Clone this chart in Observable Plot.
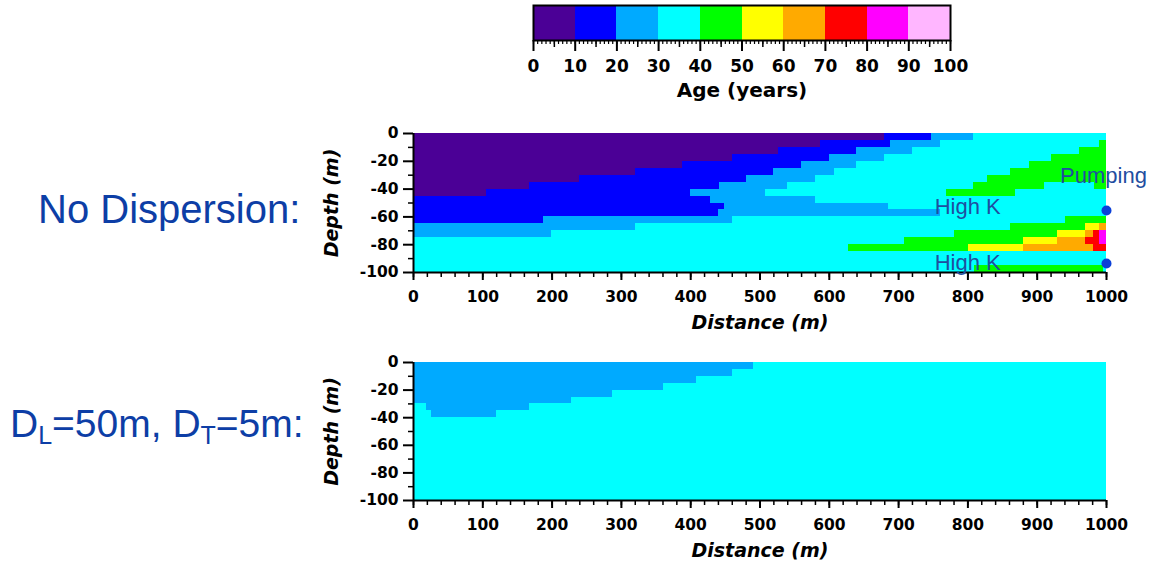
<!DOCTYPE html>
<html><head><meta charset="utf-8">
<script src="https://cdn.jsdelivr.net/npm/d3@7"></script>
<script src="https://cdn.jsdelivr.net/npm/@observablehq/plot@0.6"></script>
<style>
body{margin:0;background:#fff;}
#root{position:relative;width:1156px;height:565px;overflow:hidden;background:#fff;}
.abs{position:absolute;}
.lbl{position:absolute;font-family:"Liberation Sans",Arial,sans-serif;color:#0d3ea6;white-space:nowrap;line-height:1;}
.sub{font-size:25px;position:relative;top:7px;}
</style></head><body><div id="root">
<div class="lbl" style="left:38px;top:189px;font-size:40px;">No Dispersion:</div>
<div class="lbl" style="left:10px;top:404px;font-size:39px;">D<span class="sub">L</span>=50m, D<span class="sub">T</span>=5m:</div>
</div>
<script>
// ---- data ----
const ageEdges = [0,10,20,30,40,50,60,70,80,90,100];
const ageColors = ["#4b0096","#0000ff","#00aaff","#00ffff","#00ff00","#ffff00","#ffaa00","#ff0000","#ff00ff","#ffb6ff"];
const ageTickLabels = [0,10,20,30,40,50,60,70,80,90,100];
const ageMidTicks = [5,15,25,35,45,55,65,75,85,95];
const ageMinorTicks = d3.range(0,101,1);

const depthRowTop    = [0,-5,-10,-15,-20,-25,-30,-35,-40,-45,-50,-55,-60,-65,-70,-75,-80,-85,-90,-95];
const depthRowBottom = [-5,-10,-15,-20,-25,-30,-35,-40,-45,-50,-55,-60,-65,-70,-75,-80,-85,-90,-95,-100];
const distanceMax = 1000;
const depthMajor = [0,-20,-40,-60,-80,-100];
const depthMinor = [-10,-30,-50,-70,-90];
const distMajor = [0,100,200,300,400,500,600,700,800,900,1000];
const distMinor = d3.range(0,1001,20);

// each row: [start distance (m), age class lower bound (years)]
const noDispersionRows = [
 [[0,0],[679,10],[748,20],[808,30]],
 [[0,0],[587,10],[688,20],[760,30],[990,40]],
 [[0,0],[526,10],[639,20],[720,30],[961,40]],
 [[0,0],[460,10],[601,20],[680,30],[921,40]],
 [[0,0],[388,10],[560,20],[639,30],[889,40]],
 [[0,0],[320,10],[519,20],[607,30],[861,40]],
 [[0,0],[240,10],[480,20],[580,30],[829,40]],
 [[0,0],[167,10],[441,20],[539,30],[808,40],[910,30],[982,40]],
 [[0,0],[106,10],[400,20],[508,30],[769,40],[869,30]],
 [[0,10],[429,20],[580,30]],
 [[0,10],[449,20],[685,30]],
 [[0,10],[440,20],[760,30]],
 [[0,10],[188,20],[460,30],[941,40]],
 [[0,20],[320,30],[861,40],[970,50],[990,60]],
 [[0,20],[199,30],[781,40],[929,50],[970,60],[981,70],[990,80]],
 [[0,30],[708,40],[880,50],[929,60],[970,70],[990,80]],
 [[0,30],[628,40],[801,50],[880,60],[981,70]],
 [[0,30]],
 [[0,30]],
 [[0,30],[810,40],[996,30]]
];
const dispersionRows = [
 [[0,20],[490,30]],
 [[0,20],[460,30]],
 [[0,20],[408,30]],
 [[0,20],[361,30]],
 [[0,20],[287,30]],
 [[0,20],[228,30]],
 [[0,30],[19,20],[167,30]],
 [[0,30],[26,20],[120,30]],
 [[0,30]],[[0,30]],[[0,30]],[[0,30]],[[0,30]],[[0,30]],[[0,30]],[[0,30]],[[0,30]],[[0,30]],[[0,30]],[[0,30]]
];
const noDispLabels = [
 {label:"Pumping", x:933, y:-30.6},
 {label:"High K", x:752, y:-52.9},
 {label:"High K", x:752, y:-93}
];
const wells = [{x:1000, y:-55.4},{x:1000, y:-93.5}];

// ---- rendering ----
const root = document.getElementById("root");
const colorScale = {type:"threshold", domain: ageEdges.slice(1,-1), range: ageColors};
const baseStyle = {fontFamily:"'DejaVu Sans', sans-serif", fontWeight:"bold", fontSize:"15px", color:"black", background:"none", maxWidth:"none", overflow:"visible"};

function place(node, left, top){
  const d = document.createElement("div");
  d.className = "abs"; d.style.left = left+"px"; d.style.top = top+"px";
  d.appendChild(node); root.appendChild(d);
}

const bins = ageEdges.slice(0,-1).map((a,i)=>({a0:a, a1:ageEdges[i+1]}));
const colorbar = Plot.plot({
  width:480, height:110, marginLeft:33, marginRight:30, marginTop:5, marginBottom:70,
  x:{domain:[0,100]}, y:{domain:[0,1], axis:null}, color: colorScale, style: baseStyle,
  marks:[
    Plot.rect(bins,{x1:"a0", x2:"a1", y1:0, y2:1, fill:"a0", shapeRendering:"crispEdges"}),
    Plot.frame({stroke:"black", strokeWidth:2}),
    Plot.axisX({ticks:ageMinorTicks, tickSize:4, tickFormat:()=>"", strokeWidth:1.2, label:null}),
    Plot.axisX({ticks:ageMidTicks, tickSize:7, tickFormat:()=>"", strokeWidth:1.5, label:null}),
    Plot.axisX({ticks:ageTickLabels, tickSize:11, tickPadding:8, tickFormat:d=>String(d), strokeWidth:2, label:null, fontSize:17}),
    Plot.text(["Age (years)"], {frameAnchor:"bottom", dy:50, lineAnchor:"middle", fontSize:20})
  ]
});
place(colorbar, 500, 0);

function panel(rows, H, mt, mb, labels, points){
  const cells = rows.flatMap((segs,i)=>segs.map(([x0,age],j)=>({
    x1:x0, x2: j+1<segs.length ? segs[j+1][0] : distanceMax,
    y1:depthRowBottom[i], y2:depthRowTop[i], age})));
  const marks = [
    Plot.rect(cells,{x1:"x1", x2:"x2", y1:"y1", y2:"y2", fill:"age", shapeRendering:"crispEdges"}),
    Plot.ruleX([0],{stroke:"black", strokeWidth:2}),
    Plot.ruleY([-100],{stroke:"black", strokeWidth:2}),
    Plot.axisY({ticks:depthMinor, tickSize:5, tickFormat:()=>"", strokeWidth:1.5, label:null}),
    Plot.axisY({ticks:depthMajor, tickSize:10, tickPadding:5, tickFormat:d=>String(d), strokeWidth:2, label:null, fontSize:15.5}),
    Plot.axisX({ticks:distMinor, tickSize:5, tickFormat:()=>"", strokeWidth:1.5, label:null}),
    Plot.axisX({ticks:distMajor, tickSize:8, tickPadding:10, tickFormat:d=>String(d), strokeWidth:2, label:null, fontSize:15.5}),
    Plot.text(["Depth (m)"], {frameAnchor:"left", dx:-81.5, rotate:-90, textAnchor:"middle", lineAnchor:"middle", fontSize:19, fontStyle:"italic"}),
    Plot.text(["Distance (m)"], {frameAnchor:"bottom", dy:50, textAnchor:"middle", lineAnchor:"middle", fontSize:19, fontStyle:"italic"})
  ];
  if (labels) marks.push(Plot.text(labels,{x:"x", y:"y", text:"label", textAnchor:"start", fontSize:22, fontWeight:"normal", fontFamily:"'Liberation Sans', Arial, sans-serif", fill:"#1f4ea0"}));
  if (points) marks.push(Plot.dot(points,{x:"x", y:"y", r:5, fill:"#0b40d8", stroke:"none"}));
  return Plot.plot({
    width:856, height:H, marginLeft:113, marginRight:50, marginTop:mt, marginBottom:mb,
    x:{domain:[0,distanceMax]}, y:{domain:[-100,0]}, color: colorScale, style: baseStyle,
    marks
  });
}
place(panel(noDispersionRows, 225, 13, 73, noDispLabels, wells), 300, 120);
place(panel(dispersionRows, 215, 12, 65, null, null), 300, 350);
</script></body></html>
